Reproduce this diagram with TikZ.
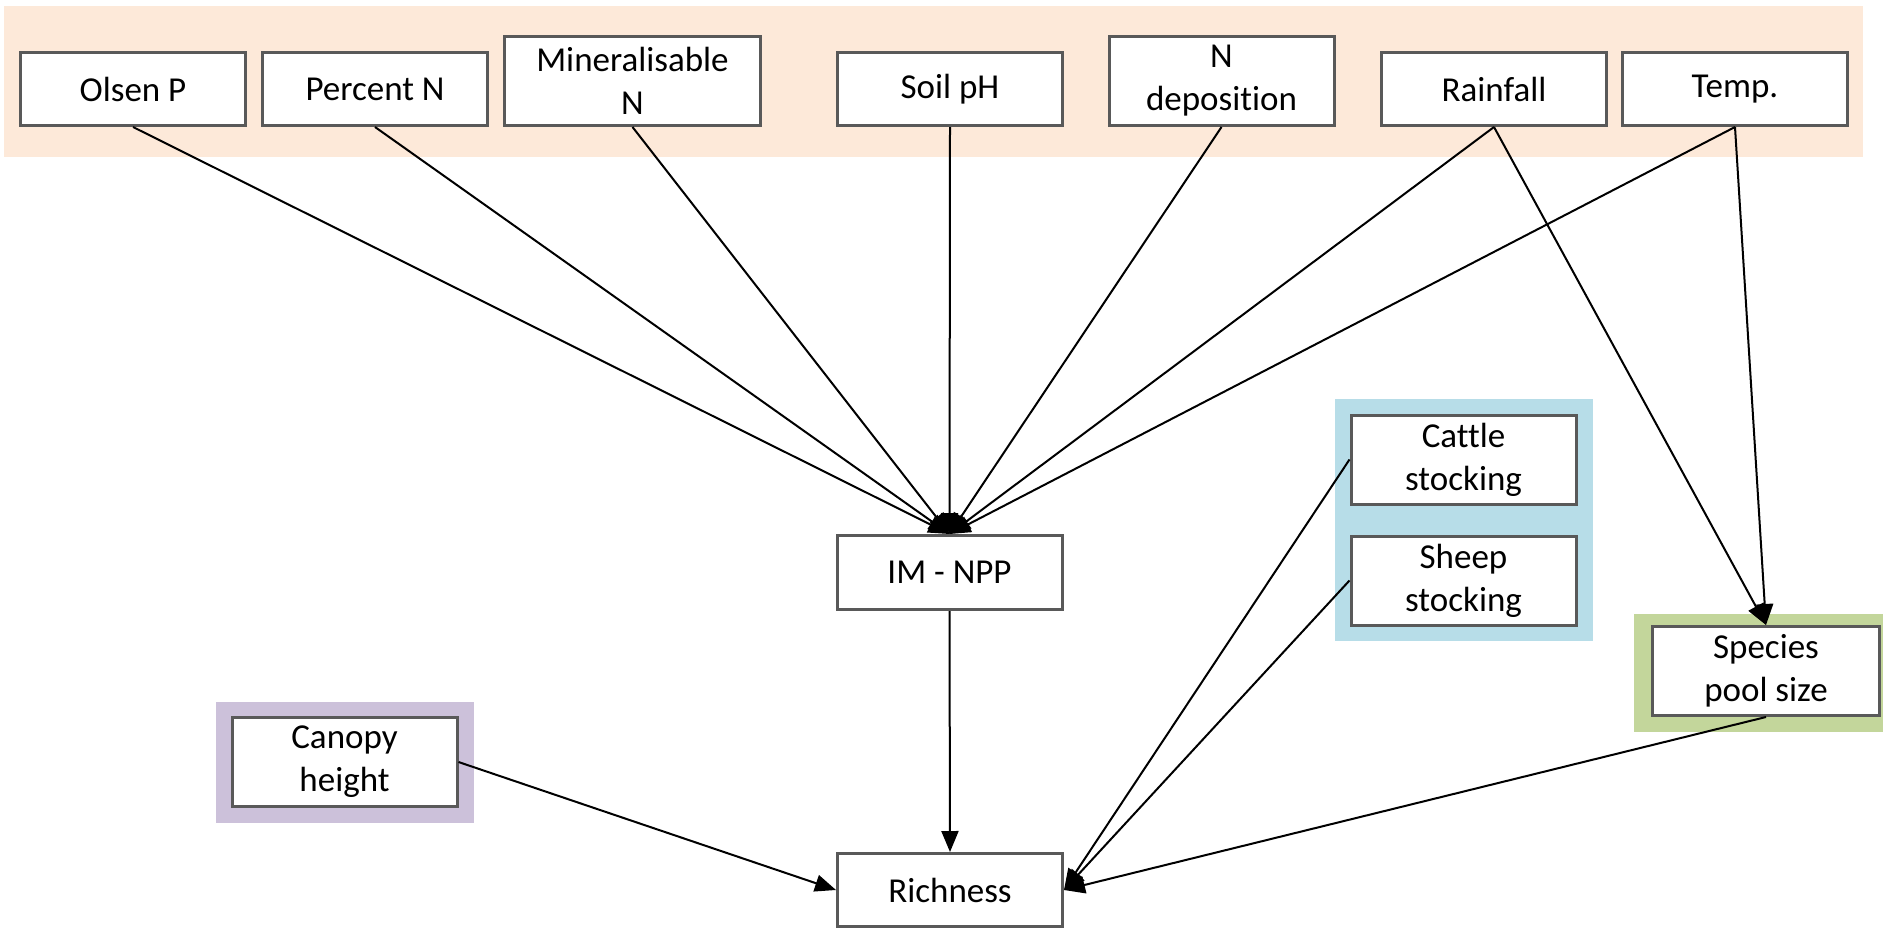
\documentclass[tikz,border=0pt]{standalone}
\usepackage{fontspec}
\setmainfont{Carlito}[Ligatures=NoCommon]
\usepackage{tikz}
\usetikzlibrary{arrows.meta}

\definecolor{boxgrey}{HTML}{595959}
\definecolor{climatepeach}{HTML}{FDE9D9}
\definecolor{grazingblue}{HTML}{B7DDE8}
\definecolor{canopypurple}{HTML}{CCC1DA}
\definecolor{poolgreen}{HTML}{C3D69B}

\tikzset{
  varbox/.style={draw=boxgrey, line width=3pt, fill=white, align=center,
    inner sep=0pt, minimum width=225pt, minimum height=73pt,
    font=\fontsize{35}{43}\selectfont},
  twoline/.style={minimum height=89pt},
  path/.style={draw=black, line width=2pt, -{Triangle[length=21pt,width=17pt]}}
}

\begin{document}
\begin{tikzpicture}[x=1pt,y=-1pt]
\useasboundingbox (0,0) rectangle (1883,930);

\fill[climatepeach] (4,6) rectangle (1863,157);
\fill[canopypurple] (216,702) rectangle (474,823);
\fill[grazingblue] (1335,399) rectangle (1593,641);
\fill[poolgreen] (1634,614) rectangle (1883,732);

\node[varbox] (OlsenP) at (133,89) {Olsen P};
\node[varbox] (PercentN) at (375,89) {Percent N};
\node[varbox, twoline, minimum width=256pt] (MineralN) at (632.5,81) {Mineralisable\\N};
\node[varbox] (SoilPH) at (950,89) {Soil pH};
\node[varbox, twoline] (NDeposition) at (1221.5,81) {N\\deposition};
\node[varbox] (Rainfall) at (1494,89) {Rainfall};
\node[varbox] (Temp) at (1735,89) {Temp.};

\node[varbox, minimum height=74pt] (IMNPP) at (949.5,572.5) {IM - NPP};
\node[varbox] (Richness) at (950,890) {Richness};
\node[varbox, twoline] (CanopyHeight) at (344.5,762) {Canopy\\height};
\node[varbox, twoline] (CattleStocking) at (1463.5,459.5) {Cattle\\stocking};
\node[varbox, twoline] (SheepStocking) at (1463.5,580.5) {Sheep\\stocking};
\node[varbox, twoline, minimum width=227pt] (PoolSize) at (1766,671) {Species\\pool size};

\draw[path] (OlsenP.south) -- (IMNPP.north);
\draw[path] (PercentN.south) -- (IMNPP.north);
\draw[path] (MineralN.south) -- (IMNPP.north);
\draw[path] (SoilPH.south) -- (IMNPP.north);
\draw[path] (NDeposition.south) -- (IMNPP.north);
\draw[path] (Rainfall.south) -- (IMNPP.north);
\draw[path] (Temp.south) -- (IMNPP.north);

\draw[path] (Rainfall.south) -- (PoolSize.north);
\draw[path] (Temp.south) -- (PoolSize.north);

\draw[path] (IMNPP.south) -- (Richness.north);
\draw[path] (CanopyHeight.east) -- (Richness.west);
\draw[path] (CattleStocking.west) -- (Richness.east);
\draw[path] (SheepStocking.west) -- (Richness.east);
\draw[path] (PoolSize.south) -- (Richness.east);
\end{tikzpicture}
\end{document}
